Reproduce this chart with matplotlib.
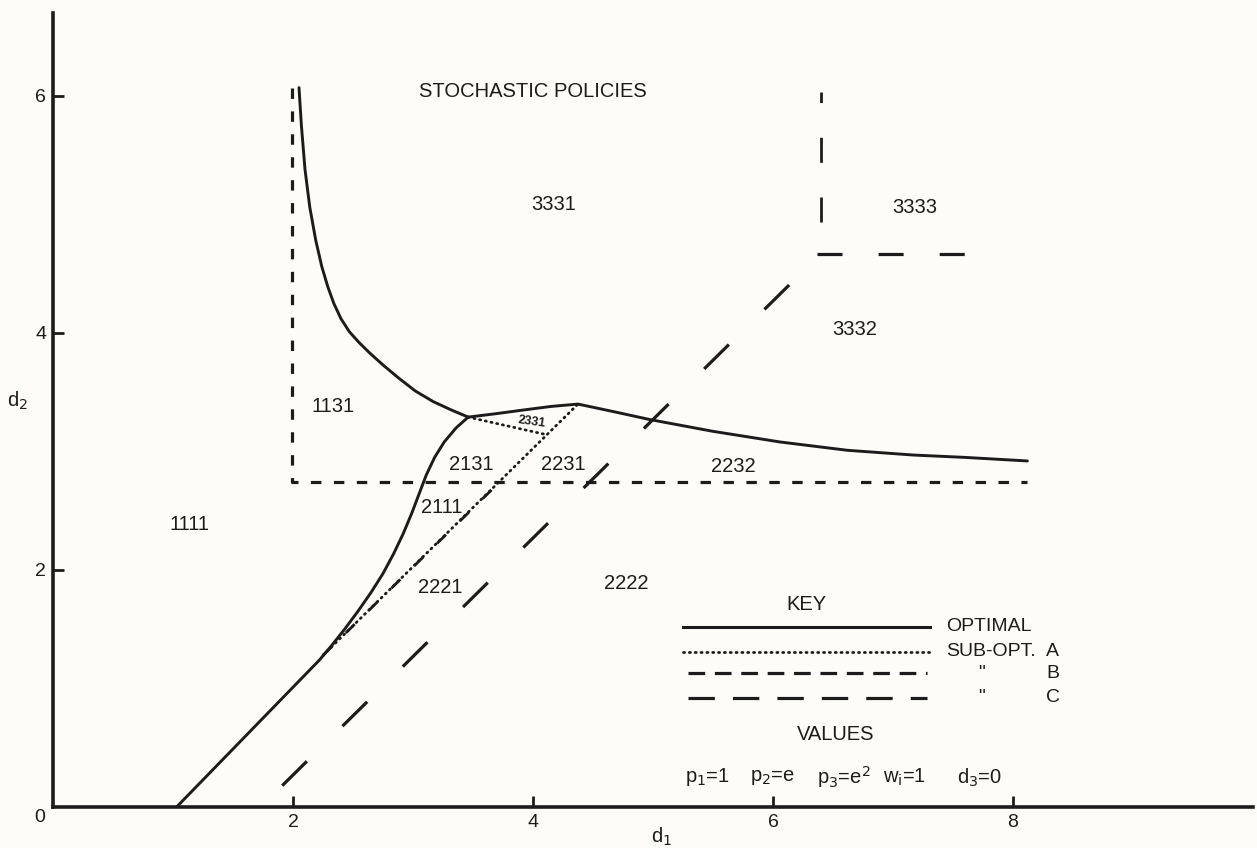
import matplotlib
matplotlib.use("Agg")
import matplotlib.pyplot as plt

plt.rcParams['font.family'] = ['Liberation Sans Narrow', 'Liberation Sans', 'DejaVu Sans']
plt.rcParams['mathtext.fontset'] = 'custom'
plt.rcParams['mathtext.rm'] = 'Liberation Sans Narrow'
plt.rcParams['mathtext.it'] = 'Liberation Sans Narrow'
plt.rcParams['lines.scale_dashes'] = False

INK = '#1c1c1c'
BG = '#fdfcf8'

# optimal boundaries (solid)
opt_upper_x = [2.05, 2.07, 2.10, 2.14, 2.19, 2.24, 2.29, 2.34, 2.40, 2.47, 2.55, 2.64, 2.75, 2.88, 3.02, 3.17, 3.32, 3.46]
opt_upper_y = [6.07, 5.75, 5.38, 5.06, 4.78, 4.56, 4.39, 4.25, 4.12, 4.01, 3.92, 3.83, 3.73, 3.62, 3.51, 3.42, 3.35, 3.29]
opt_right_x = [3.46, 3.70, 3.92, 4.15, 4.375, 4.70, 4.97, 5.50, 6.06, 6.62, 7.17, 7.60, 8.12]
opt_right_y = [3.29, 3.32, 3.35, 3.38, 3.40, 3.33, 3.27, 3.17, 3.08, 3.01, 2.97, 2.95, 2.92]
opt_lower_x = [1.03, 2.22, 2.32, 2.43, 2.54, 2.65, 2.75, 2.84, 2.92, 2.99, 3.05, 3.11, 3.18, 3.26, 3.36, 3.46]
opt_lower_y = [0.00, 1.24, 1.36, 1.50, 1.65, 1.81, 1.97, 2.14, 2.31, 2.48, 2.64, 2.80, 2.95, 3.08, 3.20, 3.29]

# sub-optimal A (dotted)
a_diag_x = [2.25, 4.375]
a_diag_y = [1.28, 3.40]
a_tri_x = [3.46, 4.12]
a_tri_y = [3.29, 3.14]

# sub-optimal B (short dash)
b_x = [1.99, 1.99, 8.12]
b_y = [6.07, 2.74, 2.74]
b_diag_x = [2.25, 3.72]
b_diag_y = [1.28, 2.74]

# sub-optimal C (long dash)
c_diag_x = [1.91, 6.37]
c_diag_y = [0.18, 4.64]
c_horiz_x = [6.37, 7.60]
c_horiz_y = [4.67, 4.67]
c_vert_x = [6.40, 6.40]
c_vert_y = [4.94, 6.03]

region_labels = ['1111', '1131', '2111', '2131', '2221', '2222', '2231', '2232',
                 '3331', '3332', '3333']
region_x = [1.14, 2.33, 3.24, 3.49, 3.23, 4.78, 4.25, 5.67, 4.17, 6.68, 7.18]
region_y = [2.38, 3.38, 2.53, 2.89, 1.85, 1.89, 2.89, 2.87, 5.08, 4.03, 5.06]

x_ticks = [2, 4, 6, 8]
y_ticks = [2, 4, 6]

fig = plt.figure(figsize=(12.57, 8.48), dpi=100, facecolor=BG)
ax = fig.add_axes([53 / 1257, 41 / 848, 1200 / 1257, 794 / 848])
ax.set_facecolor(BG)
ax.set_xlim(0, 10)
ax.set_ylim(0, 6.7)

for s in ['top', 'right']:
    ax.spines[s].set_visible(False)
for s in ['left', 'bottom']:
    ax.spines[s].set_linewidth(2.6)
    ax.spines[s].set_color(INK)

ax.set_xticks(x_ticks)
ax.set_yticks(y_ticks)
ax.tick_params(direction='in', length=8, width=2, colors=INK, labelsize=14, pad=5)

lw = 2.1
ax.plot(opt_upper_x, opt_upper_y, color=INK, lw=lw, solid_capstyle='round', solid_joinstyle='round')
ax.plot(opt_right_x, opt_right_y, color=INK, lw=lw, solid_capstyle='round', solid_joinstyle='round')
ax.plot(opt_lower_x, opt_lower_y, color=INK, lw=lw, solid_capstyle='round', solid_joinstyle='round')

dot = (0, (0.8, 3.4))
ax.plot(a_diag_x, a_diag_y, color=INK, lw=2.0, linestyle=dot, dash_capstyle='round')
ax.plot(a_tri_x, a_tri_y, color=INK, lw=2.0, linestyle=dot, dash_capstyle='round')

bdash = (0, (7.5, 9))
ax.plot(b_x, b_y, color=INK, lw=2.3, linestyle=bdash)
ax.plot(b_diag_x, b_diag_y, color=INK, lw=2.0, linestyle=(0, (9, 14)))

ax.plot(c_diag_x, c_diag_y, color=INK, lw=2.3, linestyle=(0, (25, 36)))
ax.plot(c_horiz_x, c_horiz_y, color=INK, lw=2.3, linestyle=(0, (18, 26)))
ax.plot(c_vert_x, c_vert_y, color=INK, lw=2.0, linestyle=(0, (18, 25)))

fs = 14.5
for lab, x, y in zip(region_labels, region_x, region_y):
    ax.text(x, y, lab, ha='center', va='center', fontsize=fs, color=INK)
ax.text(3.99, 3.25, '2331', ha='center', va='center', fontsize=9, fontweight='bold',
        rotation=-8, color=INK)
ax.text(4.0, 6.04, 'STOCHASTIC POLICIES', ha='center', va='center', fontsize=fs, color=INK)

# key
ax.text(6.28, 1.71, 'KEY', ha='center', va='center', fontsize=fs, color=INK)
ax.plot([5.25, 7.31], [1.52, 1.52], color=INK, lw=2.2)
ax.plot([5.25, 7.31], [1.31, 1.31], color=INK, lw=2.0, linestyle=dot, dash_capstyle='round')
ax.plot([5.29, 7.28], [1.13, 1.13], color=INK, lw=2.3, linestyle=(0, (12, 7)))
ax.plot([5.29, 7.28], [0.92, 0.92], color=INK, lw=2.3, linestyle=(0, (19, 13)))
kfs = 14
ax.text(7.44, 1.52, 'OPTIMAL', ha='left', va='center', fontsize=kfs, color=INK)
ax.text(7.44, 1.31, 'SUB-OPT.', ha='left', va='center', fontsize=kfs, color=INK)
ax.text(8.33, 1.31, 'A', ha='center', va='center', fontsize=kfs, color=INK)
ax.text(7.74, 1.13, '"', ha='center', va='center', fontsize=kfs, color=INK)
ax.text(8.33, 1.13, 'B', ha='center', va='center', fontsize=kfs, color=INK)
ax.text(7.74, 0.92, '"', ha='center', va='center', fontsize=kfs, color=INK)
ax.text(8.33, 0.92, 'C', ha='center', va='center', fontsize=kfs, color=INK)

ax.text(6.52, 0.61, 'VALUES', ha='center', va='center', fontsize=fs, color=INK)
val_texts = [r'p$_1$=1', r'p$_2$=e', r'p$_3$=e$^2$', r'w$_i$=1', r'd$_3$=0']
val_x = [5.27, 5.81, 6.37, 6.92, 7.53]
for t, x in zip(val_texts, val_x):
    ax.text(x, 0.25, t, ha='left', va='center', fontsize=fs, color=INK)

ax.text(-0.11, -0.09, '0', ha='center', va='center', fontsize=14, color=INK, clip_on=False)
ax.text(5.07, -0.25, r'd$_1$', ha='center', va='center', fontsize=fs, color=INK, clip_on=False)
ax.text(-0.30, 3.43, r'd$_2$', ha='center', va='center', fontsize=fs, color=INK, clip_on=False)

fig.savefig('out.png', dpi=100, facecolor=BG)
